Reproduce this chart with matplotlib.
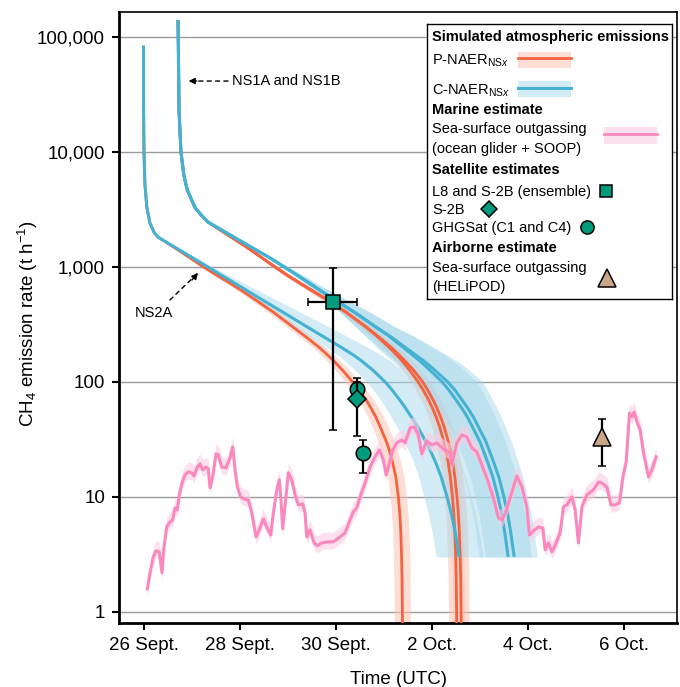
import matplotlib
matplotlib.use("Agg")
import matplotlib.pyplot as plt
from matplotlib.patches import Rectangle
from matplotlib.ticker import NullLocator

plt.rcParams['font.family'] = ['Liberation Sans', 'DejaVu Sans']
plt.rcParams['mathtext.fontset'] = 'custom'
plt.rcParams['mathtext.rm'] = 'Liberation Sans'
plt.rcParams['mathtext.it'] = 'Liberation Sans:italic'
plt.rcParams['mathtext.bf'] = 'Liberation Sans:bold'

# ---------------- data (time in days since 26 Sept 00:00 UTC, rates in t/h) -------------
x_tick_days = [0, 2, 4, 6, 8, 10]
x_tick_labels = ["26 Sept.", "28 Sept.", "30 Sept.", "2 Oct.", "4 Oct.", "6 Oct."]
y_ticks = [1, 10, 100, 1000, 10000, 100000]
y_tick_labels = ["1", "10", "100", "1,000", "10,000", "100,000"]

# emission-rate levels at which the simulated curves were read (t/h)
levels = [1500, 1200, 1000, 850, 700, 600, 500, 400, 300, 250, 200, 170, 150, 125, 100, 85,
          70, 60, 50, 40, 30, 25, 20, 15, 10, 7, 5, 3, 2, 1, 0.5, 0.2]

ns2a_top_rate = [84000, 28000, 10000, 5200, 3300, 2400, 2000, 1820]
ns2a_top_day = [-0.01, -0.01, 0.0, 0.02, 0.06, 0.125, 0.21, 0.29]
ns1_top_rate = [140000, 23000, 10000, 6300, 4700, 3300, 2900, 2460]
ns1_top_day = [0.71, 0.73, 0.77, 0.83, 0.90, 1.06, 1.17, 1.33]

# P-NAER (red): time at which each level is reached (all 32 levels)
p_ns2a_day = [0.604, 0.958, 1.240, 1.510, 1.844, 2.094, 2.375, 2.708, 3.104, 3.354,
              3.646, 3.833, 3.969, 4.146, 4.344, 4.479, 4.625, 4.719, 4.823, 4.927,
              5.052, 5.115, 5.177, 5.244, 5.298, 5.329, 5.348, 5.365, 5.373, 5.381, 5.388, 5.392]
p_ns1a_day = [2.125, 2.458, 2.729, 2.979, 3.302, 3.5625, 3.875, 4.221, 4.621, 4.85,
              5.104, 5.271, 5.388, 5.542, 5.708, 5.815, 5.925, 6.002, 6.081, 6.1625,
              6.246, 6.29, 6.335, 6.379, 6.425, 6.454, 6.473, 6.492, 6.502, 6.51, 6.517, 6.519]
p_ns1b_day = [2.125, 2.458, 2.729, 2.979, 3.302, 3.5625, 3.875, 4.221, 4.631, 4.871,
              5.146, 5.323, 5.45, 5.625, 5.802, 5.908, 6.019, 6.096, 6.175, 6.256,
              6.340, 6.383, 6.429, 6.473, 6.519, 6.548, 6.567, 6.585, 6.596, 6.604, 6.610, 6.613]
p_unc_day = [0.03, 0.045, 0.06, 0.07, 0.08, 0.09, 0.10, 0.11, 0.12, 0.125, 0.13, 0.135, 0.14,
             0.145, 0.15, 0.155, 0.16, 0.16, 0.165, 0.165, 0.17, 0.17, 0.17, 0.17, 0.17, 0.17,
             0.17, 0.17, 0.17, 0.17, 0.17, 0.17]

# C-NAER (blue): first 28 levels (down to 3 t/h)
c_ns2a_day = [0.625, 1.015, 1.329, 1.608, 1.944, 2.208, 2.523, 2.910, 3.404, 3.719,
              4.106, 4.375, 4.552, 4.781, 5.021, 5.167, 5.323, 5.4375, 5.5625, 5.708,
              5.875, 5.969, 6.073, 6.1875, 6.3125, 6.406, 6.479, 6.5625]
c_ns2a_lo = [-0.02, -0.035, -0.05, -0.07, -0.10, -0.12, -0.15, -0.20, -0.25, -0.28,
             -0.30, -0.33, -0.35, -0.37, -0.38, -0.39, -0.40, -0.41, -0.42, -0.43,
             -0.45, -0.45, -0.46, -0.47, -0.48, -0.48, -0.48, -0.48]
c_ns2a_hi = [0.03, 0.06, 0.10, 0.14, 0.20, 0.25, 0.30, 0.37, 0.45, 0.50,
             0.55, 0.58, 0.60, 0.60, 0.60, 0.58, 0.55, 0.53, 0.50, 0.50,
             0.50, 0.50, 0.50, 0.50, 0.50, 0.50, 0.50, 0.50]
c_ns1a_day = [2.217, 2.621, 2.921, 3.1875, 3.494, 3.735, 4.033, 4.398, 4.831, 5.102,
              5.396, 5.606, 5.765, 5.967, 6.210, 6.35, 6.494, 6.608, 6.729, 6.848,
              7.0, 7.071, 7.158, 7.2625, 7.371, 7.45, 7.51, 7.585]
c_ns1b_day = [2.217, 2.621, 2.921, 3.1875, 3.494, 3.735, 4.033, 4.398, 4.831, 5.123,
              5.4375, 5.669, 5.848, 6.071, 6.325, 6.475, 6.619, 6.733, 6.854, 6.973,
              7.125, 7.196, 7.283, 7.3875, 7.496, 7.575, 7.635, 7.710]
c_ns1_lo = [-0.02, -0.035, -0.05, -0.07, -0.10, -0.15, -0.20, -0.30, -0.42, -0.50,
            -0.55, -0.57, -0.58, -0.59, -0.60, -0.60, -0.60, -0.60, -0.60, -0.60,
            -0.60, -0.60, -0.60, -0.60, -0.60, -0.60, -0.60, -0.60]
c_ns1_hi = [0.04, 0.06, 0.08, 0.11, 0.15, 0.20, 0.26, 0.33, 0.40, 0.50,
            0.60, 0.66, 0.70, 0.72, 0.72, 0.68, 0.64, 0.61, 0.58, 0.56,
            0.53, 0.52, 0.51, 0.50, 0.49, 0.49, 0.49, 0.48]

# Marine estimate (ocean glider + SOOP)
pink_day = [0.069, 0.125, 0.194, 0.25, 0.319, 0.375, 0.417, 0.473, 0.542, 0.598,
            0.646, 0.694, 0.735, 0.792, 0.854, 0.923, 0.994, 1.042, 1.110, 1.167,
            1.223, 1.292, 1.340, 1.375, 1.431, 1.5, 1.548, 1.619, 1.708, 1.792,
            1.848, 1.896, 1.944, 2.015, 2.083, 2.173, 2.244, 2.333, 2.402, 2.485,
            2.556, 2.640, 2.694, 2.765, 2.819, 2.848, 2.890, 2.944, 3.006, 3.077,
            3.146, 3.215, 3.306, 3.354, 3.390, 3.458, 3.542, 3.610, 3.702, 3.806,
            3.944, 4.083, 4.188, 4.292, 4.360, 4.431, 4.5, 4.604, 4.708, 4.813,
            4.902, 4.985, 5.042, 5.090, 5.181, 5.265, 5.369, 5.438, 5.542, 5.625,
            5.708, 5.785, 5.890, 5.994, 6.098, 6.235, 6.375, 6.410, 6.515, 6.619,
            6.723, 6.827, 6.931, 7.035, 7.140, 7.277, 7.381, 7.452, 7.521, 7.625,
            7.765, 7.869, 7.973, 8.027, 8.110, 8.215, 8.306, 8.354, 8.423, 8.494,
            8.583, 8.667, 8.735, 8.806, 8.910, 8.979, 9.048, 9.119, 9.223, 9.360,
            9.465, 9.535, 9.640, 9.723, 9.813, 9.902, 9.973, 10.042, 10.110, 10.160,
            10.208, 10.265, 10.333, 10.402, 10.506, 10.577, 10.667]
pink_rate = [1.58, 2.18, 3.01, 3.39, 3.32, 2.18, 3.67, 5.48, 6.06, 6.31,
             8.02, 7.71, 10.4, 13.2, 15.5, 16.5, 16.2, 15.2, 18.2, 19.4,
             17.2, 18.2, 17.5, 12.0, 14.9, 23.7, 23.2, 18.2, 17.9, 21.8,
             27.2, 17.2, 12.2, 10.0, 9.6, 9.4, 7.26, 4.49, 5.17, 6.44,
             5.48, 4.67, 7.26, 11.5, 14.1, 10.0, 5.27, 8.87, 16.2, 14.1,
             10.4, 8.52, 8.69, 7.26, 4.49, 5.17, 3.98, 3.75, 3.98, 4.06,
             4.06, 4.49, 4.86, 6.31, 7.41, 8.02, 10.0, 13.2, 18.2, 22.3,
             25.6, 21.0, 15.5, 18.2, 25.6, 29.5, 31.3, 29.5, 39.8, 40.6,
             35.3, 23.7, 30.7, 28.3, 29.5, 26.1, 24.1, 19.0, 29.5, 34.6,
             33.2, 26.7, 24.6, 19.0, 14.6, 9.8, 6.57, 6.31, 7.11, 9.8,
             15.2, 12.2, 8.19, 4.67, 5.06, 5.48, 5.37, 3.46, 3.98, 3.32,
             3.98, 4.86, 8.19, 8.52, 10.0, 7.71, 3.98, 8.19, 10.4, 11.5,
             13.5, 13.2, 12.2, 8.52, 8.52, 8.87, 14.9, 20.2, 53.7, 49.6,
             54.8, 44.9, 38.3, 24.1, 14.9, 17.2, 22.3]
pink_lo_factor = 0.87
pink_hi_factor = 1.22

# Satellite / airborne estimates
l8_day, l8_rate, l8_lo, l8_hi, l8_xerr = [3.93], [500], [38], [970], [0.51]
s2b_day, s2b_rate, s2b_lo, s2b_hi = [4.444], [71], [34], [100]
ghg_day, ghg_rate, ghg_lo, ghg_hi = [4.444, 4.556], [86, 24], [70, 16.1], [108, 31.3]
heli_day, heli_rate, heli_lo, heli_hi = [9.535], [33], [18.7], [47.4]

# ---------------- styling ----------------
RED = '#f4623f'
RED_BAND = '#fbc3b3'
BLUE = '#46b2d2'
BLUE_BAND = '#a8d8ea'
PINK = '#fa88bd'
PINK_BAND = '#fbcce2'
TEAL = '#009a7c'
TAN = '#c9a687'

W, H = 680, 687
fig = plt.figure(figsize=(W / 100, H / 100), dpi=100)
ax = fig.add_axes([119 / W, 1 - 623 / H, 558 / W, 611 / H])
ax.set_yscale('log')
ax.set_xlim(-0.52, 11.1)
ax.set_ylim(0.80, 165000)

nb = len(c_ns2a_day)

# red bands
for top_d, top_r, days in [(ns2a_top_day, ns2a_top_rate, p_ns2a_day),
                           (ns1_top_day, ns1_top_rate, p_ns1a_day),
                           (ns1_top_day, ns1_top_rate, p_ns1b_day)]:
    rates = [top_r[-1]] + levels
    d = [top_d[-1]] + days
    u = [0.0] + p_unc_day
    ax.fill_betweenx(rates, [a - b for a, b in zip(d, u)], [a + b for a, b in zip(d, u)],
                     color=RED_BAND, alpha=0.55, lw=0, zorder=1)

# blue bands
ax.fill_betweenx([ns2a_top_rate[-1]] + levels[:nb],
                 [ns2a_top_day[-1]] + [c + o for c, o in zip(c_ns2a_day, c_ns2a_lo)],
                 [ns2a_top_day[-1]] + [c + o for c, o in zip(c_ns2a_day, c_ns2a_hi)],
                 color=BLUE_BAND, alpha=0.5, lw=0, zorder=1.1)
for days in (c_ns1a_day, c_ns1b_day):
    ax.fill_betweenx([ns1_top_rate[-1]] + levels[:nb],
                     [ns1_top_day[-1]] + [c + o for c, o in zip(days, c_ns1_lo)],
                     [ns1_top_day[-1]] + [c + o for c, o in zip(days, c_ns1_hi)],
                     color=BLUE_BAND, alpha=0.5, lw=0, zorder=1.1)

lkw = dict(solid_capstyle='butt', solid_joinstyle='round')
# red lines
for top_d, top_r, days in [(ns2a_top_day, ns2a_top_rate, p_ns2a_day),
                           (ns1_top_day, ns1_top_rate, p_ns1a_day),
                           (ns1_top_day, ns1_top_rate, p_ns1b_day)]:
    ax.plot(top_d + days, top_r + levels, color=RED, lw=2.0, zorder=3, **lkw)
# blue lines
for top_d, top_r, days in [(ns2a_top_day, ns2a_top_rate, c_ns2a_day),
                           (ns1_top_day, ns1_top_rate, c_ns1a_day),
                           (ns1_top_day, ns1_top_rate, c_ns1b_day)]:
    ax.plot(top_d + days, top_r + levels[:nb], color=BLUE, lw=2.2, zorder=3.2, **lkw)

# marine estimate
ax.fill_between(pink_day, [r * pink_lo_factor for r in pink_rate],
                [r * pink_hi_factor for r in pink_rate], color=PINK_BAND, alpha=0.6, lw=0,
                zorder=3.5)
ax.plot(pink_day, pink_rate, color=PINK, lw=2.2, zorder=3.6, solid_joinstyle='round')


def yerr(rate, lo, hi):
    return [[r - l for r, l in zip(rate, lo)], [h - r for r, h in zip(rate, hi)]]


ekw = dict(ecolor='black', elinewidth=1.6, capsize=3, capthick=1.6, mec='black', mew=1.1,
           ls='none')
ax.errorbar(l8_day, l8_rate, yerr=yerr(l8_rate, l8_lo, l8_hi), xerr=l8_xerr, marker='s', ms=10,
            mfc=TEAL, zorder=6, **ekw)
ax.errorbar(ghg_day, ghg_rate, yerr=yerr(ghg_rate, ghg_lo, ghg_hi), marker='o', ms=10.5,
            mfc=TEAL, zorder=6, **ekw)
ax.errorbar(s2b_day, s2b_rate, yerr=yerr(s2b_rate, s2b_lo, s2b_hi), marker='D', ms=9.5,
            mfc=TEAL, zorder=6.5, **ekw)
ax.errorbar(heli_day, heli_rate, yerr=yerr(heli_rate, heli_lo, heli_hi), marker='^', ms=13,
            mfc=TAN, zorder=6, **ekw)

# annotations
ax.annotate('', xy=(0.93, 41400), xytext=(1.75, 41400),
            arrowprops=dict(arrowstyle='-', lw=1.0, color='black', linestyle=(0, (3, 3)),
                            shrinkA=0, shrinkB=0), zorder=7)
ax.annotate('', xy=(0.93, 41400), xytext=(1.1, 41400),
            arrowprops=dict(arrowstyle='-|>', lw=1.0, color='black', mutation_scale=9,
                            shrinkA=0, shrinkB=0), zorder=7)
ax.text(1.833, 41400, 'NS1A and NS1B', ha='left', va='center', fontsize=10.5, zorder=7)

ax.annotate('', xy=(1.125, 887), xytext=(0.54, 516),
            arrowprops=dict(arrowstyle='-', lw=1.0, color='black', linestyle=(0, (3, 3)),
                            shrinkA=0, shrinkB=0), zorder=7)
ax.annotate('', xy=(1.125, 887), xytext=(1.0, 770),
            arrowprops=dict(arrowstyle='-|>', lw=1.0, color='black', mutation_scale=9,
                            shrinkA=0, shrinkB=0), zorder=7)
ax.text(0.21, 398, 'NS2A', ha='center', va='center', fontsize=10.5, zorder=7)

# axes styling
ax.set_xticks(x_tick_days, x_tick_labels)
ax.set_yticks(y_ticks, y_tick_labels)
ax.yaxis.set_minor_locator(NullLocator())
ax.xaxis.set_minor_locator(NullLocator())
ax.tick_params(axis='both', direction='out', length=5, width=1.5, labelsize=13.5, pad=5,
               color='black')
ax.grid(axis='y', which='major', color='#9a9a9a', lw=1.0)
ax.set_axisbelow(True)
for side in ('left', 'bottom'):
    ax.spines[side].set_linewidth(2.0)
for side in ('top', 'right'):
    ax.spines[side].set_linewidth(1.2)
ax.set_xlabel('Time (UTC)', fontsize=13.5, labelpad=12)
ax.set_ylabel(r'CH$_4$ emission rate (t h$^{-1}$)', fontsize=13.5)
ax.yaxis.set_label_coords(-0.1416, 0.49)

# ---------------- legend (drawn in a pixel-coordinate box) ----------------
lax = fig.add_axes([427 / W, 1 - 299 / H, 245 / W, 275 / H])
lax.set_xlim(427, 672)
lax.set_ylim(299, 24)
lax.set_xticks([])
lax.set_yticks([])
lax.set_facecolor('white')
for s in lax.spines.values():
    s.set_linewidth(1.0)
    s.set_color('black')

FS = 10.5
TX = 432
entries = [
    ('Simulated atmospheric emissions', 41, True),
    (r'P-NAER$_{\mathrm{NS}x}$', 65, False),
    (r'C-NAER$_{\mathrm{NS}x}$', 95, False),
    ('Marine estimate', 113.5, True),
    ('Sea-surface outgassing', 133.5, False),
    ('(ocean glider + SOOP)', 152.7, False),
    ('Satellite estimates', 173.5, True),
    ('L8 and S-2B (ensemble)', 196, False),
    ('S-2B', 214.3, False),
    ('GHGSat (C1 and C4)', 232, False),
    ('Airborne estimate', 252, True),
    ('Sea-surface outgassing', 272, False),
    ('(HELiPOD)', 290.7, False),
]
for txt, yb, bold in entries:
    lax.text(TX, yb, txt, fontsize=FS, va='baseline', ha='left',
             fontweight='bold' if bold else 'normal')

lax.add_patch(Rectangle((518, 52), 53, 16, color=RED_BAND, alpha=0.55, lw=0))
lax.plot([518, 571], [58, 58], color=RED, lw=2.0)
lax.add_patch(Rectangle((518, 81), 53, 16, color=BLUE_BAND, alpha=0.5, lw=0))
lax.plot([518, 571], [88, 88], color=BLUE, lw=2.2)
lax.add_patch(Rectangle((604, 127), 53, 17, color=PINK_BAND, alpha=0.6, lw=0))
lax.plot([604, 657], [134, 134], color=PINK, lw=2.0)
mk = dict(mec='black', mew=1.1, ls='none', clip_on=False)
lax.plot([606], [191], marker='s', ms=9, mfc=TEAL, **mk)
lax.plot([489], [209], marker='D', ms=8, mfc=TEAL, **mk)
lax.plot([587], [227], marker='o', ms=9.5, mfc=TEAL, **mk)
lax.plot([607], [278], marker='^', ms=13, mfc=TAN, **mk)

fig.savefig('out.png', dpi=100)
